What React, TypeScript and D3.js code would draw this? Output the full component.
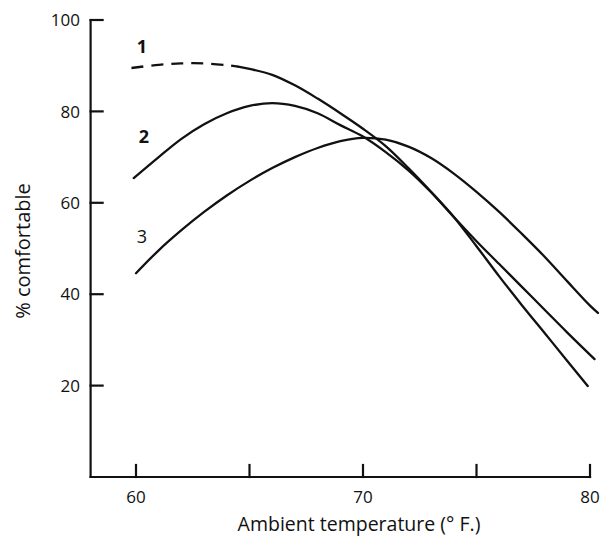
import React from "react";
import * as d3 from "d3";

const WIDTH = 605;
const HEIGHT = 541;

// Curve 1 (dashed at the cool end, then solid)
const curve1Temps = [59.8, 61, 62, 63, 64, 64.5, 65, 66, 67, 68, 69, 70, 71, 72, 73, 74, 75, 76, 77, 78, 79, 79.9];
const curve1Values = [89.5, 90.2, 90.5, 90.5, 90.1, 89.8, 89.3, 88.0, 85.7, 82.8, 79.6, 76.2, 72.4, 67.6, 62.4, 56.9, 50.5, 43.9, 37.6, 31.5, 25.4, 19.9];
const curve1DashedUntil = 64.5;

// Curve 2
const curve2Temps = [59.9, 61, 62, 63, 64, 65, 66, 67, 68, 69, 70, 71, 72, 73, 74, 75, 76, 77, 78, 79, 80.2];
const curve2Values = [65.4, 70.0, 74.0, 77.2, 79.6, 81.2, 81.8, 81.2, 79.6, 77.0, 74.5, 71.1, 67.1, 62.3, 56.9, 51.6, 46.6, 41.6, 36.6, 31.6, 25.8];

// Curve 3
const curve3Temps = [60, 61, 62, 63, 64, 65, 66, 67, 68, 69, 70, 71, 72, 73, 74, 75, 76, 77, 78, 79, 80, 80.35];
const curve3Values = [44.6, 49.6, 54.0, 58.0, 61.6, 64.8, 67.6, 70.0, 72.0, 73.5, 74.2, 73.8, 72.3, 69.8, 66.4, 62.4, 58.0, 53.2, 48.2, 42.8, 37.5, 35.9];

// Curve number annotations
const curveLabels = ["1", "2", "3"];
const curveLabelTemps = [60.26, 60.35, 60.26];
const curveLabelValues = [92.7, 73.1, 51.2];

// Axes
const xTicks = [60, 65, 70, 75, 80];
const xTickLabels = ["60", "", "70", "", "80"];
const yTicks = [20, 40, 60, 80, 100];
const yTickLabels = ["20", "40", "60", "80", "100"];
const xTitle = "Ambient temperature (° F.)";
const yTitle = "% comfortable";

const FONT = "'Open Sans', sans-serif";

export default function App() {
  const x = d3.scaleLinear().domain([58, 80]).range([90.6, 590]);
  const y = d3.scaleLinear().domain([0, 100]).range([477, 20]);

  const line = d3
    .line<[number, number]>()
    .x((d) => x(d[0]))
    .y((d) => y(d[1]))
    .curve(d3.curveCatmullRom.alpha(0.5));

  const pts = (t: number[], v: number[]) => t.map((tt, i) => [tt, v[i]] as [number, number]);
  const c1 = pts(curve1Temps, curve1Values);
  const c1Dashed = c1.filter((d) => d[0] <= curve1DashedUntil);
  const c1Solid = c1.filter((d) => d[0] >= curve1DashedUntil);
  const c2 = pts(curve2Temps, curve2Values);
  const c3 = pts(curve3Temps, curve3Values);

  const x0 = x(58);
  const x1 = x(80);
  const y0 = y(0);
  const yTop = y(100);
  const tickLen = 12;

  return (
    <svg
      width={WIDTH}
      height={HEIGHT}
      style={{ position: "absolute", left: 0, top: 0, background: "#fff" }}
    >
      <rect width={WIDTH} height={HEIGHT} fill="#fff" />
      {/* axes */}
      <g stroke="#111" strokeWidth={2.2} fill="none" strokeLinecap="square">
        <line x1={x0} y1={yTop} x2={x0} y2={y0} />
        <line x1={x0} y1={y0} x2={x1} y2={y0} />
        {yTicks.map((t) => (
          <line key={"yt" + t} x1={x0} x2={x0 + tickLen} y1={y(t)} y2={y(t)} />
        ))}
        {xTicks.map((t) => (
          <line key={"xt" + t} x1={x(t)} x2={x(t)} y1={y0} y2={y0 - tickLen} />
        ))}
      </g>
      {/* tick labels */}
      <g fontFamily={FONT} fontSize={17} fill="#111">
        {yTicks.map((t, i) => (
          <text key={"yl" + t} x={80} y={y(t)} dy="0.36em" textAnchor="end">
            {yTickLabels[i]}
          </text>
        ))}
        {xTicks.map((t, i) => (
          <text key={"xl" + t} x={x(t)} y={503} textAnchor="middle">
            {xTickLabels[i]}
          </text>
        ))}
      </g>
      {/* axis titles */}
      <text x={359} y={531} textAnchor="middle" fontFamily={FONT} fontSize={19.5} fill="#111">
        {xTitle}
      </text>
      <text
        transform={`translate(30, 251) rotate(-90)`}
        textAnchor="middle"
        fontFamily={FONT}
        fontSize={20}
        fill="#111"
      >
        {yTitle}
      </text>
      {/* curves */}
      <g stroke="#111" strokeWidth={2.3} fill="none" strokeLinecap="round">
        <path d={line(c1Dashed) || ""} strokeDasharray="12 8" strokeLinecap="butt" />
        <path d={line(c1Solid) || ""} />
        <path d={line(c2) || ""} />
        <path d={line(c3) || ""} />
      </g>
      {/* curve numbers */}
      <g fontFamily={FONT} fontSize={18} fill="#111">
        {curveLabels.map((l, i) => (
          <text
            key={"cl" + l}
            x={x(curveLabelTemps[i])}
            y={y(curveLabelValues[i])}
            textAnchor="middle"
            fontWeight={i === 2 ? 400 : 700}
          >
            {l}
          </text>
        ))}
      </g>
    </svg>
  );
}
